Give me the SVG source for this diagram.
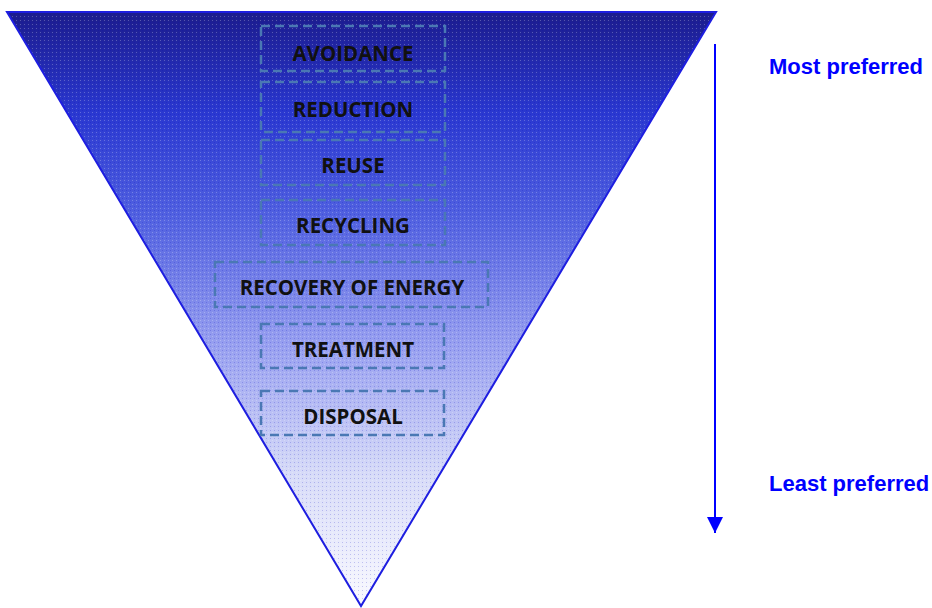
<svg xmlns="http://www.w3.org/2000/svg" width="932" height="608" viewBox="0 0 932 608">
  <defs>
    <linearGradient id="funnelFill" x1="0" y1="0" x2="0" y2="1">
      <stop offset="0" stop-color="#1c1c8c"/>
      <stop offset="0.17" stop-color="#2a38d0"/>
      <stop offset="0.34" stop-color="#5060e0"/>
      <stop offset="0.56" stop-color="#98a0f0"/>
      <stop offset="0.78" stop-color="#d8dcf8"/>
      <stop offset="1" stop-color="#fafaff"/>
    </linearGradient>
    <pattern id="grain" width="4" height="4" patternUnits="userSpaceOnUse">
      <rect x="0" y="0" width="1" height="1" fill="#ffffff" fill-opacity="0.25"/>
      <rect x="2" y="2" width="1" height="1" fill="#0000c0" fill-opacity="0.2"/>
    </pattern>
    <marker id="arrowHead" viewBox="0 0 16 16" refX="16" refY="8" markerWidth="16" markerHeight="16" markerUnits="userSpaceOnUse" orient="auto">
      <path d="M0,0 L16,8 L0,16 Z" fill="#0000ff"/>
    </marker>
  </defs>
  <style>
    .tier rect { fill: none; stroke: #4a78b4; stroke-width: 2.5; stroke-dasharray: 9 5; }
    .tier text { font-family: "Open Sans", "Liberation Sans", sans-serif; font-weight: bold; font-size: 20.5px; fill: #111111; text-anchor: middle; }
    .scale { font-family: "Liberation Sans", Arial, sans-serif; font-weight: bold; font-size: 22px; fill: #0000ff; }
  </style>

  <!-- inverted funnel -->
  <g id="funnel">
    <polygon points="7,12 716,12 361,606" fill="url(#funnelFill)"/>
    <polygon points="7,12 716,12 361,606" fill="url(#grain)"/>
    <polygon points="7,12 716,12 361,606" fill="none" stroke="#1e1ee0" stroke-width="2"/>
  </g>

  <g id="avoidance" class="tier">
    <rect x="261" y="26" width="184" height="45"/>
    <text x="353" y="61">AVOIDANCE</text>
  </g>
  <g id="reduction" class="tier">
    <rect x="261" y="82" width="184" height="50"/>
    <text x="353" y="117">REDUCTION</text>
  </g>
  <g id="reuse" class="tier">
    <rect x="261" y="140" width="184" height="45"/>
    <text x="353" y="173">REUSE</text>
  </g>
  <g id="recycling" class="tier">
    <rect x="261" y="200" width="184" height="45"/>
    <text x="353" y="233">RECYCLING</text>
  </g>
  <g id="recovery" class="tier">
    <rect x="215" y="262" width="273" height="45"/>
    <text x="352" y="295">RECOVERY OF ENERGY</text>
  </g>
  <g id="treatment" class="tier">
    <rect x="261" y="324" width="183" height="44"/>
    <text x="353" y="357">TREATMENT</text>
  </g>
  <g id="disposal" class="tier">
    <rect x="261" y="391" width="183" height="44"/>
    <text x="353" y="424">DISPOSAL</text>
  </g>

  <g id="connectors">
    <line x1="715" y1="44" x2="715" y2="533" stroke="#0000ff" stroke-width="2" marker-end="url(#arrowHead)"/>
  </g>

  <g id="labels">
    <text class="scale" x="769" y="74">Most preferred</text>
    <text class="scale" x="769" y="491">Least preferred</text>
  </g>
</svg>
